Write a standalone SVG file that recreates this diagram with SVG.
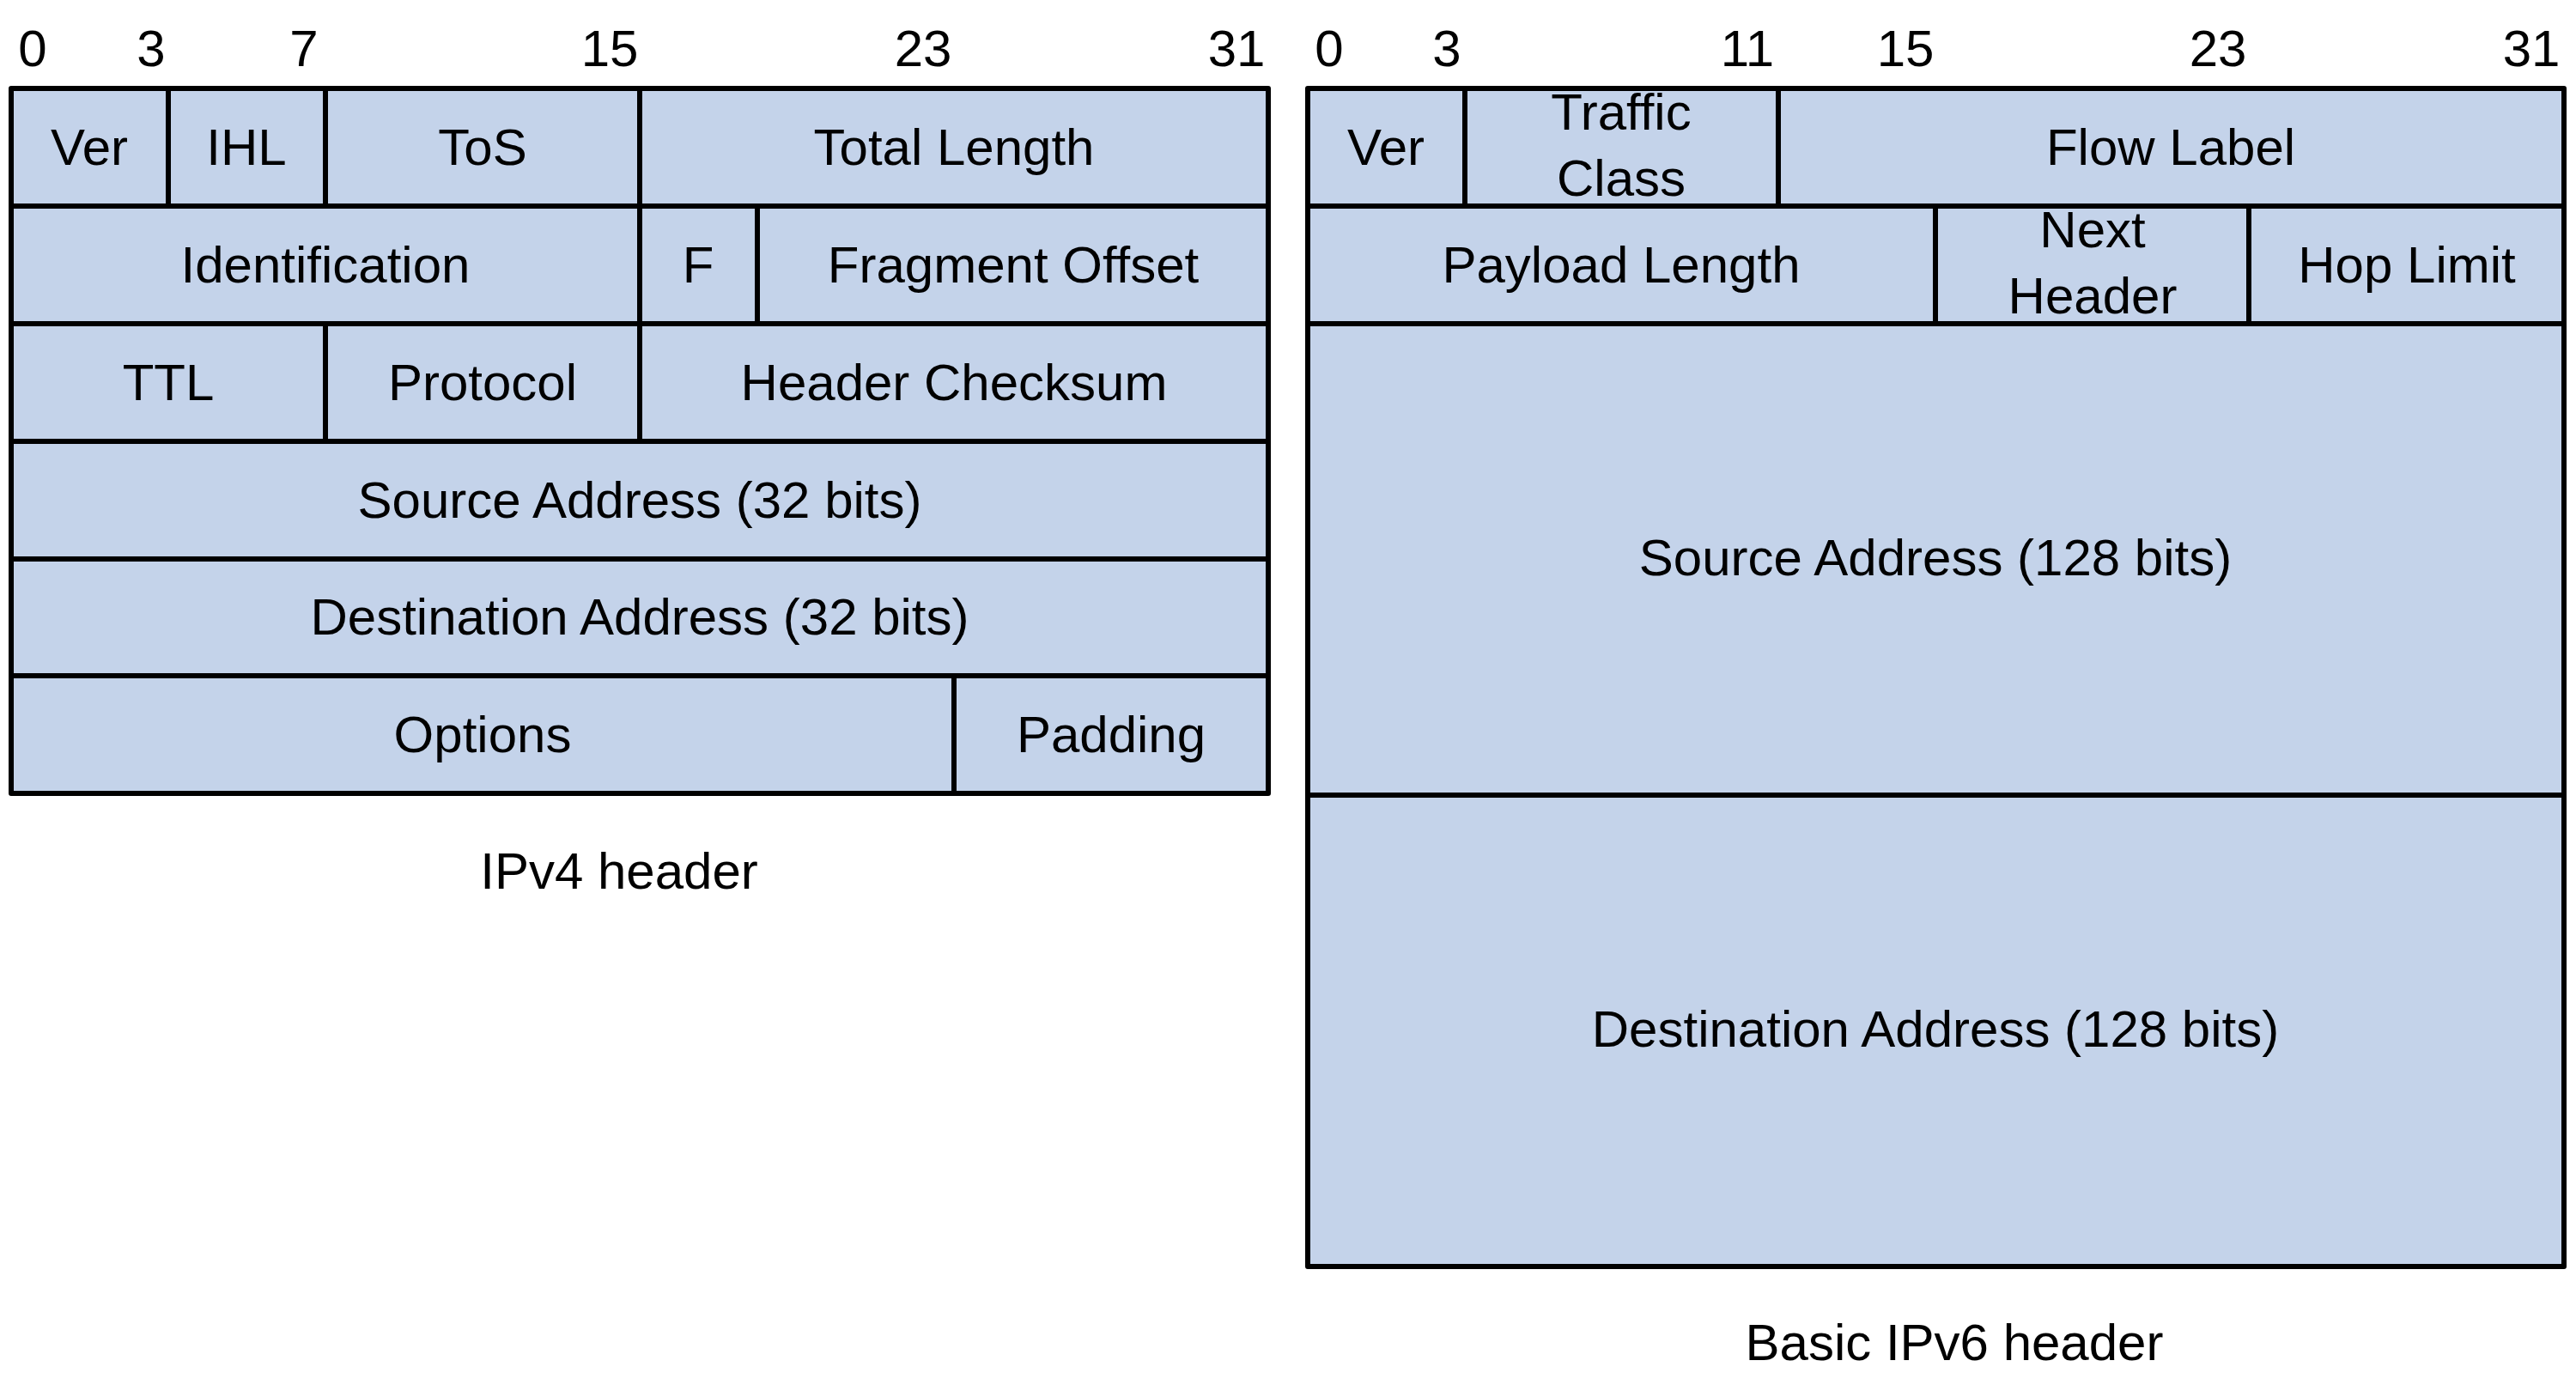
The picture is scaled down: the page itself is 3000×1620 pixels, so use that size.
<svg xmlns="http://www.w3.org/2000/svg" width="3000" height="1620" viewBox="0 0 3000 1620">
<style>
rect{fill:#c4d3ea;stroke:#000;stroke-width:6;stroke-linejoin:round}
text{font-family:"Liberation Sans",Arial,sans-serif;font-size:60px;fill:#000;text-anchor:middle}
</style>
<rect width="3000" height="1620" style="fill:#fff;stroke:none"/>
<g id="bits4">
<text x="38" y="77">0</text><text x="176" y="77">3</text><text x="354" y="77">7</text><text x="710" y="77">15</text><text x="1075" y="77">23</text><text x="1440" y="77">31</text>
</g>
<g id="bits6">
<text x="1548" y="77">0</text><text x="1685" y="77">3</text><text x="2035" y="77">11</text><text x="2219" y="77">15</text><text x="2583" y="77">23</text><text x="2948" y="77">31</text>
</g>
<g id="ipv4">
<g id="v4-ver"><rect x="13" y="103" width="183" height="137"/><text x="104" y="192">Ver</text></g>
<g id="v4-ihl"><rect x="196" y="103" width="183" height="137"/><text x="287" y="192">IHL</text></g>
<g id="v4-tos"><rect x="379" y="103" width="366" height="137"/><text x="562" y="192">ToS</text></g>
<g id="v4-len"><rect x="745" y="103" width="732" height="137"/><text x="1111" y="192">Total Length</text></g>
<g id="v4-id"><rect x="13" y="240" width="732" height="137"/><text x="379" y="329">Identification</text></g>
<g id="v4-f"><rect x="745" y="240" width="137" height="137"/><text x="813" y="329">F</text></g>
<g id="v4-fo"><rect x="882" y="240" width="595" height="137"/><text x="1180" y="329">Fragment Offset</text></g>
<g id="v4-ttl"><rect x="13" y="377" width="366" height="137"/><text x="196" y="466">TTL</text></g>
<g id="v4-proto"><rect x="379" y="377" width="366" height="137"/><text x="562" y="466">Protocol</text></g>
<g id="v4-csum"><rect x="745" y="377" width="732" height="137"/><text x="1111" y="466">Header Checksum</text></g>
<g id="v4-src"><rect x="13" y="514" width="1464" height="137"/><text x="745" y="603">Source Address (32 bits)</text></g>
<g id="v4-dst"><rect x="13" y="651" width="1464" height="136"/><text x="745" y="739">Destination Address (32 bits)</text></g>
<g id="v4-opt"><rect x="13" y="787" width="1098" height="137"/><text x="562" y="876">Options</text></g>
<g id="v4-pad"><rect x="1111" y="787" width="366" height="137"/><text x="1294" y="876">Padding</text></g>
</g>
<text x="721" y="1035">IPv4 header</text>
<g id="ipv6">
<g id="v6-ver"><rect x="1523" y="103" width="183" height="137"/><text x="1614" y="192">Ver</text></g>
<g id="v6-tc"><rect x="1706" y="103" width="365" height="137"/><text x="1888" y="151">Traffic</text><text x="1888" y="228">Class</text></g>
<g id="v6-fl"><rect x="2071" y="103" width="915" height="137"/><text x="2528" y="192">Flow Label</text></g>
<g id="v6-pl"><rect x="1523" y="240" width="731" height="137"/><text x="1888" y="329">Payload Length</text></g>
<g id="v6-nh"><rect x="2254" y="240" width="365" height="137"/><text x="2437" y="288">Next</text><text x="2437" y="365">Header</text></g>
<g id="v6-hl"><rect x="2619" y="240" width="367" height="137"/><text x="2803" y="329">Hop Limit</text></g>
<g id="v6-src"><rect x="1523" y="377" width="1463" height="549"/><text x="2254" y="670">Source Address (128 bits)</text></g>
<g id="v6-dst"><rect x="1523" y="926" width="1463" height="549"/><text x="2254" y="1219">Destination Address (128 bits)</text></g>
</g>
<text x="2276" y="1584">Basic IPv6 header</text>
<g id="connectors"/>
</svg>
